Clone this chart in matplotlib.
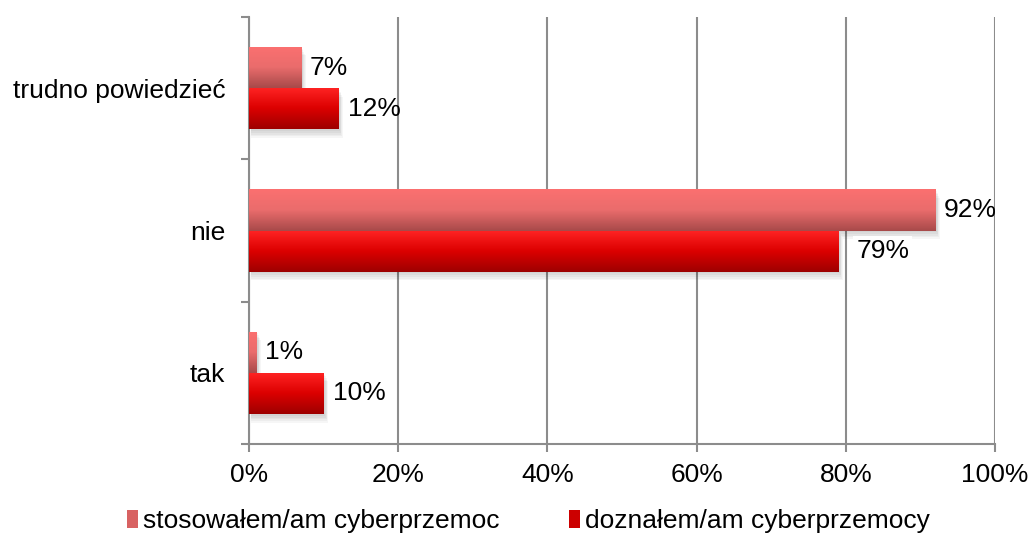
import matplotlib.pyplot as plt
import numpy as np
from matplotlib.colors import LinearSegmentedColormap
from matplotlib.patches import Patch, Rectangle

plt.rcParams['font.family'] = ['Liberation Sans', 'DejaVu Sans']

categories = ['tak', 'nie', 'trudno powiedzieć']
stosowal = [1, 92, 7]      # stosowałem/am cyberprzemoc
doznal = [10, 79, 12]      # doznałem/am cyberprzemocy
series_names = ['stosowałem/am cyberprzemoc', 'doznałem/am cyberprzemocy']

pink = LinearSegmentedColormap.from_list('pink', ['#fb7070', '#ea6c6c', '#a84a4a'])
red = LinearSegmentedColormap.from_list('red', ['#ff2424', '#dc0000', '#9e0000'])

fig = plt.figure(figsize=(10.28, 5.45), dpi=100)
ax = fig.add_axes([0.2422, 0.1853, 0.7257, 0.7835])

h = 0.29
y = np.arange(len(categories))
grad = np.linspace(0, 1, 64).reshape(-1, 1)


def draw_bars(ypos, vals, cmap):
    bars = ax.barh(ypos, vals, height=h, color='none', zorder=3)
    for b in bars:
        x0, y0 = b.get_x(), b.get_y()
        w, hh = b.get_width(), b.get_height()
        # soft drop shadow, a few stacked translucent layers
        for k in range(6):
            d = 0.012 * k
            ax.add_patch(Rectangle((x0 + 0.3, y0 - 0.06 + d), w + 0.3 - 0.1 * k, hh,
                                   facecolor='black', alpha=0.035, lw=0, zorder=2))
        im = ax.imshow(grad, extent=[x0, x0 + w, y0, y0 + hh], cmap=cmap,
                       aspect='auto', origin='upper', zorder=3,
                       interpolation='bilinear')
        im.set_clip_path(b)
    return bars


draw_bars(y + h / 2, stosowal, pink)
draw_bars(y - h / 2, doznal, red)

fs = 19
for i in range(len(categories)):
    ax.annotate(f'{stosowal[i]}%', (stosowal[i], y[i] + h / 2), xytext=(6, 0),
                textcoords='offset points', va='center', ha='left', fontsize=fs, zorder=5)
    big = doznal[i] > 50
    ax.annotate(f'{doznal[i]}%', (doznal[i], y[i] - h / 2), xytext=(13 if big else 7, 0),
                textcoords='offset points', va='center', ha='left', fontsize=fs, zorder=5,
                bbox=dict(facecolor='white', edgecolor='none', pad=2) if big else None)

ax.set_xlim(0, 100)
ax.set_ylim(-0.5, 2.5)
ax.set_xticks(range(0, 101, 20))
ax.set_xticklabels([f'{v}%' for v in range(0, 101, 20)])
ax.set_yticks(y)
ax.set_yticklabels(categories)
ax.set_yticks([-0.5, 0.5, 1.5, 2.5], minor=True)
ax.tick_params(axis='y', which='major', length=0, pad=17, labelsize=fs)
ax.tick_params(axis='y', which='minor', length=6, width=1.5, color='#8c8c8c')
ax.tick_params(axis='x', length=6, width=1.5, color='#8c8c8c', pad=8, labelsize=fs)

ax.grid(axis='x', color='#8c8c8c', linewidth=1.5, zorder=1)
ax.set_axisbelow(True)
for s in ['top', 'right']:
    ax.spines[s].set_visible(False)
for s in ['left', 'bottom']:
    ax.spines[s].set_color('#8c8c8c')
    ax.spines[s].set_linewidth(1.5)

handles = [Patch(facecolor='#d86262'), Patch(facecolor='#cc0000')]
fig.legend(handles, series_names, loc='lower center', bbox_to_anchor=(0.514, -0.012), ncol=2,
           frameon=False, fontsize=fs, handlelength=0.42, handleheight=0.65,
           handletextpad=0.2, columnspacing=2.6, borderpad=0.2)

fig.savefig('out.png', dpi=100)
